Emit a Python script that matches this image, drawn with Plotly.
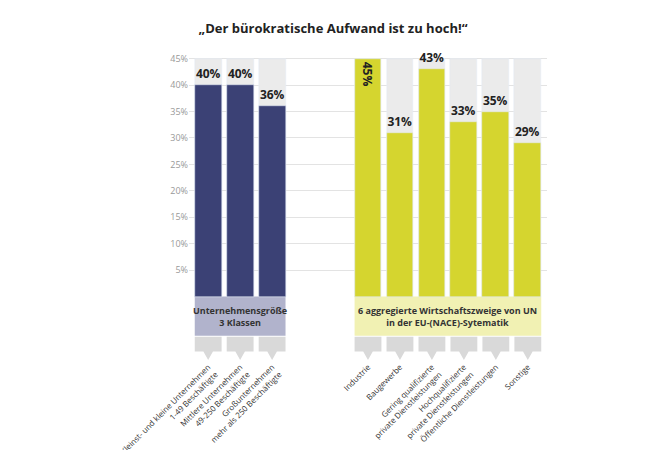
import plotly.graph_objects as go

size_labels = ["Kleinst- und kleine Unternehmen<br>1-49 Beschäftigte",
               "Mittlere Unternehmen<br>49-250 Beschäftigte",
               "Großunternehmen<br>mehr als 250 Beschäftigte"]
size_values = [40, 40, 36]
sector_labels = ["Industrie", "Baugewerbe",
                 "Gering qualifizierte<br>private Dienstleistungen",
                 "Hochqualifizierte<br>private Dienstleistungen",
                 "Öffentliche Dienstleistungen", "Sonstige"]
sector_values = [45, 31, 43, 33, 35, 29]
y_ticks = [5, 10, 15, 20, 25, 30, 35, 40, 45]

size_x = [0, 1, 2]
sector_x = [5, 6, 7, 8, 9, 10]
all_x = size_x + sector_x
navy = "#3b4175"
yellow = "#d5d52f"


def label_pos(vals):
    return ["inside" if v >= 44 else "outside" for v in vals]


fig = go.Figure()
# grey background columns up to 45%
fig.add_trace(go.Bar(x=all_x, y=[45] * len(all_x), marker_color="#ebebeb",
                     width=0.84, hoverinfo="skip", showlegend=False))
for xs, vals, col in [(size_x, size_values, navy), (sector_x, sector_values, yellow)]:
    fig.add_trace(go.Bar(x=xs, y=vals, marker_color=col, width=0.84,
                         text=[f"<b>{v}%</b>" for v in vals], textposition=label_pos(vals),
                         insidetextanchor="end", constraintext="none",
                         textfont=dict(size=12, color="#222", family="Open Sans"),
                         cliponaxis=False, showlegend=False))

# group label boxes
for x0, x1, col, txt in [(-0.42, 2.42, "#b1b3cc", "Unternehmensgröße<br>3 Klassen"),
                         (4.58, 10.42, "#f1f1b3", "6 aggregierte Wirtschaftszweige von UN<br>in der EU-(NACE)-Sytematik")]:
    fig.add_shape(type="rect", x0=x0, x1=x1, y0=-7.4, y1=0, fillcolor=col, line_width=0, layer="below")
    fig.add_annotation(x=(x0 + x1) / 2, y=-3.7, text=f"<b>{txt}</b>", showarrow=False,
                       font=dict(size=9, color="#333", family="Open Sans"))
# grey arrow tabs under each bar
for x in all_x:
    fig.add_shape(type="path", line_width=0, fillcolor="#d9d9d9",
                  path=f"M {x-0.42},-7.6 L {x+0.42},-7.6 L {x+0.42},-10.4 L {x+0.15},-10.4 "
                       f"L {x},-12 L {x-0.15},-10.4 L {x-0.42},-10.4 Z")

fig.update_layout(
    width=650, height=450, barmode="overlay", bargap=0,
    plot_bgcolor="white", paper_bgcolor="white",
    margin=dict(l=181, r=111, t=48, b=98),
    title=dict(text="<b>„Der bürokratische Aufwand ist zu hoch!“</b>", x=0.5, xanchor="center",
               y=0.965, font=dict(size=13, color="#222", family="Open Sans")),
    font=dict(family="Open Sans"),
)
fig.update_xaxes(range=[-0.6, 10.6], tickvals=all_x, ticktext=size_labels + sector_labels,
                 tickangle=-45, tickfont=dict(size=8, color="#333"), showgrid=False,
                 showline=False, zeroline=False, automargin=False)
fig.update_yaxes(range=[-12, 45.5], tickvals=y_ticks, ticktext=[f"{v}%" for v in y_ticks],
                 tickfont=dict(size=9, color="#999"), gridcolor="#e3e3e3", zeroline=False,
                 automargin=False)

fig.write_html("out.html")
